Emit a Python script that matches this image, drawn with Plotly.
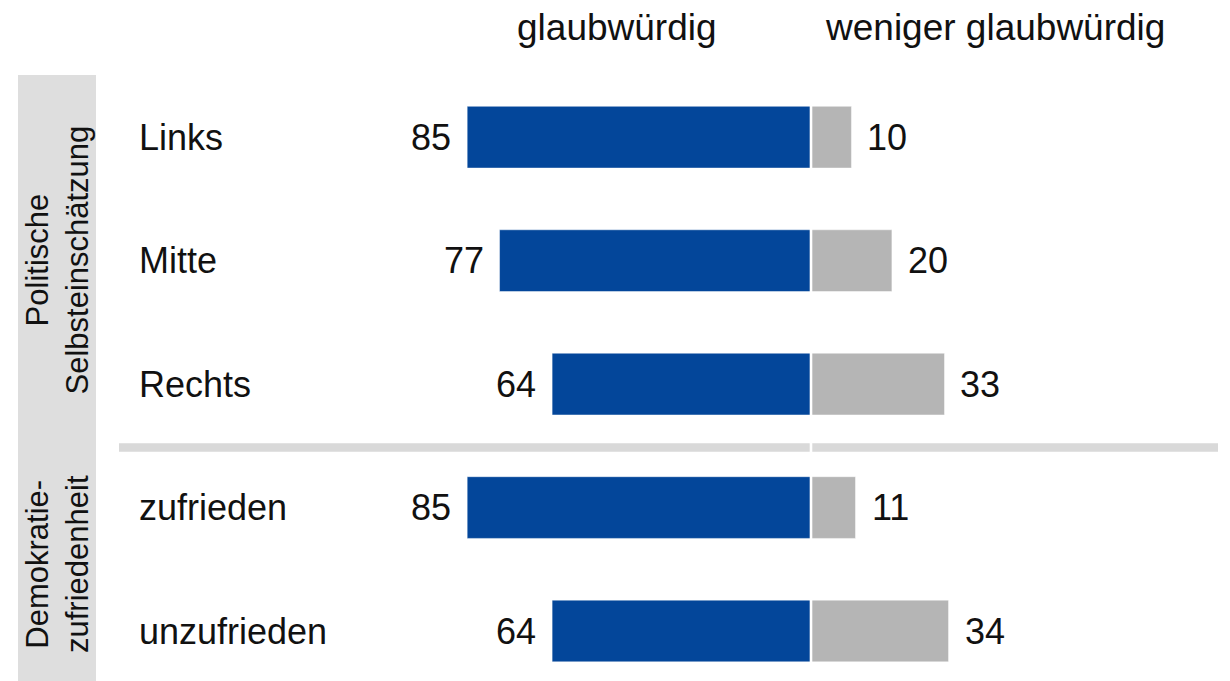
import plotly.graph_objects as go

# Survey data: credibility ratings by group (percent)
categories = ["Links", "Mitte", "Rechts", "zufrieden", "unzufrieden"]
glaubwuerdig = [85, 77, 64, 85, 64]
weniger_glaubwuerdig = [10, 20, 33, 11, 34]
group_labels = ["Politische<br>Selbsteinschätzung", "Demokratie-<br>zufriedenheit"]
header_labels = ["glaubwürdig", "weniger glaubwürdig"]

W, H = 1230, 681
BLUE = "#03469a"
GREY = "#b5b5b5"
FONT = "Liberation Sans, Arial, sans-serif"

# pixel geometry of the plotting frame
ZERO_PX = 811.0
PX_PER_UNIT = 4.045
ROW0_PX = 137.2
ROW_PX = 123.45


def ypaper(px):
    return 1 - px / H


rows = list(range(len(categories)))

fig = go.Figure()
fig.add_trace(go.Bar(
    y=rows, x=[-v for v in glaubwuerdig], orientation="h",
    marker=dict(color=BLUE, line=dict(color="rgba(255,255,255,0.45)", width=1)),
    width=0.5, hoverinfo="skip", name=header_labels[0],
))
fig.add_trace(go.Bar(
    y=rows, x=weniger_glaubwuerdig, orientation="h",
    marker=dict(color=GREY, line=dict(color="rgba(255,255,255,0.45)", width=1)),
    width=0.5, hoverinfo="skip", name=header_labels[1],
))

annotations = []
# value labels
for i, (a, b) in enumerate(zip(glaubwuerdig, weniger_glaubwuerdig)):
    annotations.append(dict(x=-a, y=i, xref="x", yref="y", text=str(a),
                            xanchor="right", yanchor="middle", xshift=-14,
                            showarrow=False, font=dict(size=36, color="#111", family=FONT)))
    annotations.append(dict(x=b, y=i, xref="x", yref="y", text=str(b),
                            xanchor="left", yanchor="middle", xshift=14,
                            showarrow=False, font=dict(size=36, color="#111", family=FONT)))
# category labels
for i, c in enumerate(categories):
    annotations.append(dict(x=137 / W, y=i, xref="paper", yref="y", text=c,
                            xanchor="left", yanchor="middle", showarrow=False,
                            font=dict(size=36, color="#111", family=FONT)))
# column headers
for lbl, cx in zip(header_labels, [617, 995]):
    annotations.append(dict(x=cx / W, y=ypaper(28), xref="paper", yref="paper", text=lbl,
                            xanchor="center", yanchor="middle", showarrow=False,
                            font=dict(size=37, color="#111", family=FONT)))
# group labels in the side panel
for lbl, cy in zip(group_labels, [260.5, 564]):
    annotations.append(dict(x=57 / W, y=ypaper(cy), xref="paper", yref="paper", text=lbl,
                            textangle=-90, xanchor="center", yanchor="middle", align="center",
                            showarrow=False, font=dict(size=31, color="#111", family=FONT)))

shapes = [
    # side panel background
    dict(type="rect", xref="paper", yref="paper", x0=18 / W, x1=96 / W,
         y0=ypaper(681), y1=ypaper(75), fillcolor="#dedede", line=dict(width=0), layer="below"),
    # group separator
    dict(type="line", xref="paper", yref="paper", x0=119 / W, x1=1218 / W,
         y0=ypaper(447.5), y1=ypaper(447.5), line=dict(color="#d9d9d9", width=8.5), layer="below"),
    # white gap at the zero line
    dict(type="line", xref="x", yref="paper", x0=0, x1=0, y0=ypaper(681), y1=ypaper(75),
         line=dict(color="white", width=2.6), layer="above"),
]

x_min = -ZERO_PX / PX_PER_UNIT
x_max = (W - ZERO_PX) / PX_PER_UNIT
y_top = -ROW0_PX / ROW_PX
y_bot = (H - ROW0_PX) / ROW_PX

fig.update_layout(
    width=W, height=H, margin=dict(l=0, r=0, t=0, b=0),
    paper_bgcolor="white", plot_bgcolor="white",
    barmode="relative", showlegend=False,
    xaxis=dict(range=[x_min, x_max], visible=False, fixedrange=True),
    yaxis=dict(range=[y_bot, y_top], visible=False, fixedrange=True),
    annotations=annotations, shapes=shapes,
    font=dict(family=FONT),
)

fig.write_html("out.html", config={"displayModeBar": False})
